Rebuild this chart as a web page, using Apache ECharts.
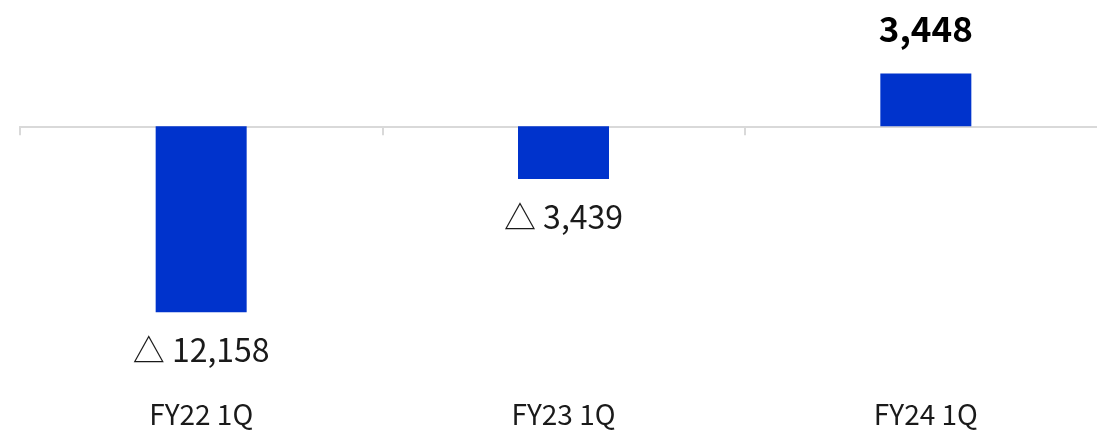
<!DOCTYPE html>
<html><head><meta charset="utf-8">
<script src="https://cdn.jsdelivr.net/npm/echarts@6/dist/echarts.min.js"></script>
<style>html,body{margin:0;padding:0;background:#fff}#c{width:1097px;height:435px}</style>
</head><body><div id="c"></div>
<script>
const categories = ['FY22 1Q', 'FY23 1Q', 'FY24 1Q'];
const values = [-12158, -3439, 3448];

const FONT = '"Noto Sans CJK JP", "Noto Sans", sans-serif';
function fmt(v){ return Math.abs(v).toLocaleString('en-US'); }

const chart = echarts.init(document.getElementById('c'), null, {renderer:'canvas'});
chart.setOption({
  animation: false,
  grid: {left: 20, width: 1087, top: 4, height: 367, outerBoundsMode: 'none', containLabel: false},
  xAxis: [{
    type: 'category', data: categories,
    axisLine: {onZero: true, lineStyle: {color: '#d9d9d9', width: 2}},
    axisTick: {show: true, length: 9, lineStyle: {color: '#d9d9d9', width: 2}},
    axisLabel: {show: false}
  }, {
    type: 'category', data: categories, position: 'bottom',
    axisLine: {show: false}, axisTick: {show: false},
    axisLabel: {color: '#1a1a1a', fontSize: 28, fontFamily: FONT, margin: 29}
  }],
  yAxis: {type: 'value', min: -16000, max: 8000, show: false, splitLine: {show: false}},
  series: [{
    type: 'bar', xAxisIndex: 0, barWidth: 91,
    itemStyle: {color: '#0033cc'},
    data: values.map(v => ({
      value: v,
      label: v < 0
        ? {show: true, position: 'bottom', distance: 22, formatter: () => '△ ' + fmt(v),
           fontSize: 32, color: '#1a1a1a', fontFamily: FONT}
        : {show: true, position: 'top', distance: 27, formatter: () => fmt(v),
           fontSize: 35, fontWeight: 'bold', color: '#000', fontFamily: FONT}
    }))
  }]
});
</script></body></html>
